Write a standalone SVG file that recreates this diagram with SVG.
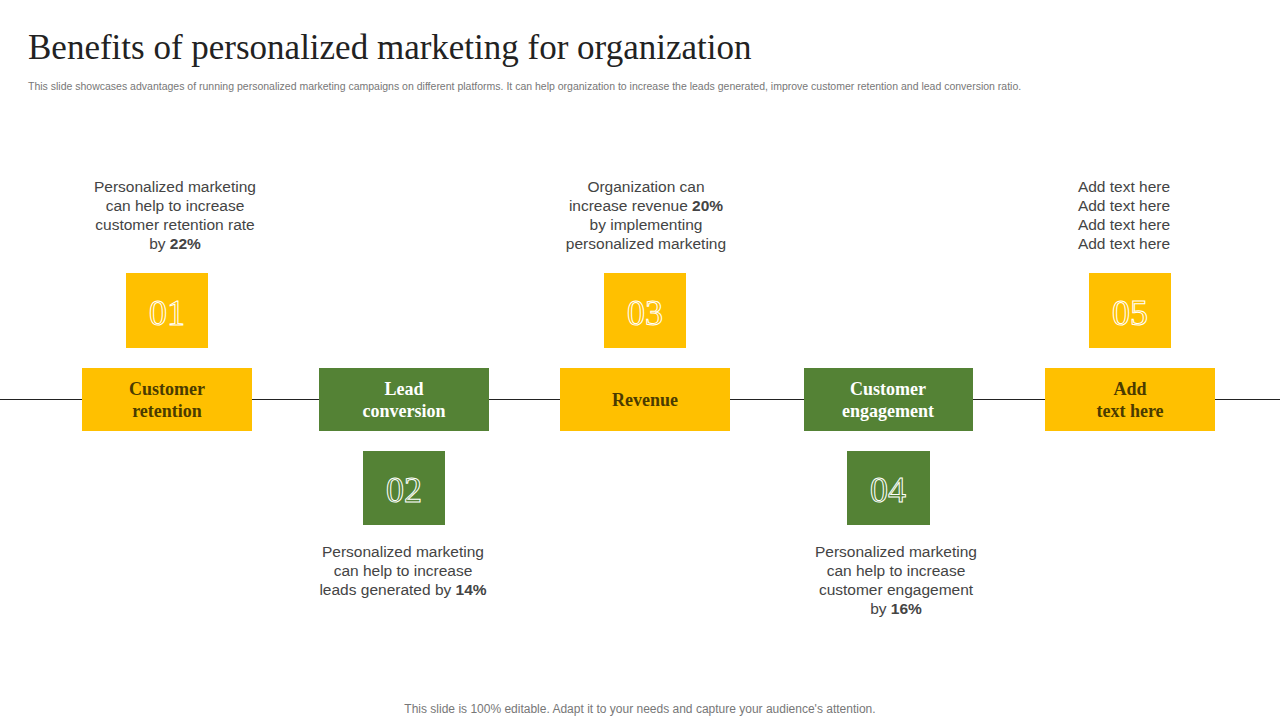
<svg xmlns="http://www.w3.org/2000/svg" width="1280" height="720" viewBox="0 0 1280 720">
<style>
.y{fill:#FFC000}.g{fill:#548235}
.num{font-family:"Liberation Serif",serif;font-size:36px;stroke:#fff;stroke-width:1;text-anchor:middle}
.ny{fill:#FFC000}.ng{fill:#548235}
.lab{font-family:"Liberation Serif",serif;font-weight:bold;font-size:18px;text-anchor:middle}
.ly{fill:#4a3b00}.lg{fill:#fff}
.d{font-family:"Liberation Sans",Arial,sans-serif;font-size:15.5px;fill:#444;text-anchor:middle}
</style>
<rect width="1280" height="720" fill="#fff"/>
<text x="28" y="59" font-family="Liberation Serif,serif" font-size="35" fill="#222">Benefits of personalized marketing for organization</text>
<text x="28" y="90" font-family="Liberation Sans,Arial,sans-serif" font-size="10.5" fill="#777">This slide showcases advantages of running personalized marketing campaigns on different platforms. It can help organization to increase the leads generated, improve customer retention and lead conversion ratio.</text>
<g id="connectors"><line x1="0" y1="399.5" x2="1280" y2="399.5" stroke="#222" stroke-width="1"/></g>
<g id="n1">
<rect class="y" x="126" y="273" width="82" height="75"/><text class="num ny" x="167" y="325">01</text>
<rect class="y" x="82" y="368" width="170" height="63"/><text class="lab ly" x="167" y="395">Customer</text><text class="lab ly" x="167" y="417">retention</text>
<text class="d" x="175" y="192">Personalized marketing</text><text class="d" x="175" y="211">can help to increase</text><text class="d" x="175" y="230">customer retention rate</text><text class="d" x="175" y="249">by <tspan font-weight="bold">22%</tspan></text>
</g>
<g id="n2">
<rect class="g" x="363" y="451" width="82" height="74"/><text class="num ng" x="404" y="502">02</text>
<rect class="g" x="319" y="368" width="170" height="63"/><text class="lab lg" x="404" y="395">Lead</text><text class="lab lg" x="404" y="417">conversion</text>
<text class="d" x="403" y="557">Personalized marketing</text><text class="d" x="403" y="576">can help to increase</text><text class="d" x="403" y="595">leads generated by <tspan font-weight="bold">14%</tspan></text>
</g>
<g id="n3">
<rect class="y" x="604" y="273" width="82" height="75"/><text class="num ny" x="645" y="325">03</text>
<rect class="y" x="560" y="368" width="170" height="63"/><text class="lab ly" x="645" y="406">Revenue</text>
<text class="d" x="646" y="192">Organization can</text><text class="d" x="646" y="211">increase revenue <tspan font-weight="bold">20%</tspan></text><text class="d" x="646" y="230">by implementing</text><text class="d" x="646" y="249">personalized marketing</text>
</g>
<g id="n4">
<rect class="g" x="847" y="451" width="83" height="74"/><text class="num ng" x="888" y="502">04</text>
<rect class="g" x="804" y="368" width="169" height="63"/><text class="lab lg" x="888" y="395">Customer</text><text class="lab lg" x="888" y="417">engagement</text>
<text class="d" x="896" y="557">Personalized marketing</text><text class="d" x="896" y="576">can help to increase</text><text class="d" x="896" y="595">customer engagement</text><text class="d" x="896" y="614">by <tspan font-weight="bold">16%</tspan></text>
</g>
<g id="n5">
<rect class="y" x="1089" y="273" width="82" height="75"/><text class="num ny" x="1130" y="325">05</text>
<rect class="y" x="1045" y="368" width="170" height="63"/><text class="lab ly" x="1130" y="395">Add</text><text class="lab ly" x="1130" y="417">text here</text>
<text class="d" x="1124" y="192">Add text here</text><text class="d" x="1124" y="211">Add text here</text><text class="d" x="1124" y="230">Add text here</text><text class="d" x="1124" y="249">Add text here</text>
</g>
<text x="640" y="713" font-family="Liberation Sans,Arial,sans-serif" font-size="12" fill="#777" text-anchor="middle">This slide is 100% editable. Adapt it to your needs and capture your audience's attention.</text>
</svg>
